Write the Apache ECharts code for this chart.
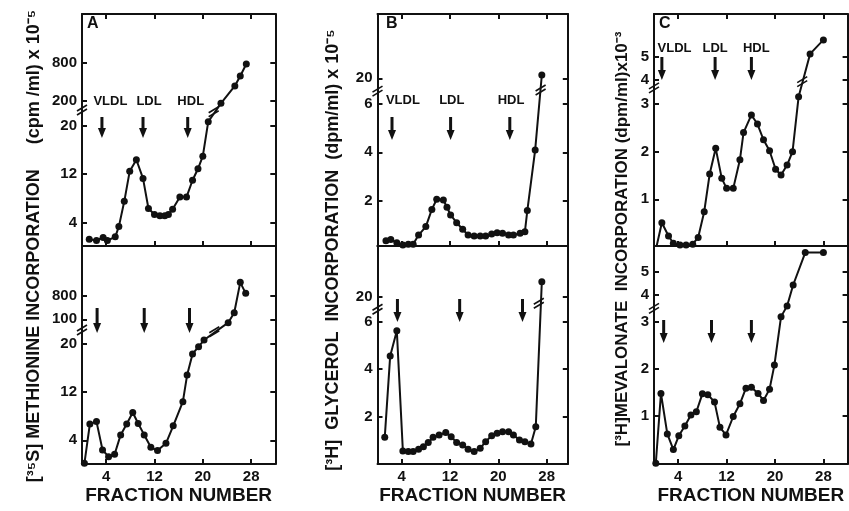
<!DOCTYPE html>
<html>
<head>
<meta charset="utf-8">
<script src="https://cdn.jsdelivr.net/npm/echarts@6/dist/echarts.min.js"></script>
<style>
  html, body { margin: 0; background: #fff; }
  #chart { width: 849px; height: 511px; }
</style>
</head>
<body>
<div id="chart"></div>
<script>
// fraction numbers on the x axis
const xTicks = [4, 12, 20, 28];
const lipoNames = ["VLDL", "LDL", "HDL"];

// A: [35S] methionine (cpm/ml x 10^-5)
const fracA1 = [1.2, 2.4, 3.5, 4.2, 5.5, 6.1, 7.0, 7.9, 9.0, 10.1, 11.0, 12.0, 12.9, 13.7, 14.3, 15.0, 16.2, 17.3, 18.3, 19.2, 20.0, 20.9, 23.0, 25.3, 26.2, 27.2];
const valA1 = [1.2, 1.0, 1.5, 1.0, 1.6, 3.3, 7.5, 12.5, 14.4, 11.3, 6.3, 5.3, 5.1, 5.1, 5.3, 6.2, 8.2, 8.2, 11.0, 12.9, 15.0, 51, 183, 437, 595, 784];
const fracA2 = [0.4, 1.3, 2.4, 3.4, 4.4, 5.4, 6.4, 7.4, 8.4, 9.3, 10.3, 11.4, 12.5, 13.9, 15.1, 16.7, 17.4, 18.3, 19.3, 20.2, 24.2, 25.2, 26.2, 27.1];
const valA2 = [0.2, 6.7, 7.1, 2.4, 1.3, 1.7, 4.9, 6.7, 8.6, 6.8, 4.9, 2.85, 2.3, 3.5, 6.4, 10.4, 14.8, 18.3, 19.5, 32, 89, 298, 1210, 880];
const yTicksA1 = [4, 12, 20, 200, 800];
const yTicksA2 = [4, 12, 20, 100, 800];

// B: [3H] glycerol (dpm/ml x 10^-5)
const fracB1 = [1.4, 2.2, 3.2, 4.2, 5.1, 5.9, 6.8, 8.0, 9.0, 9.8, 10.9, 11.5, 12.1, 13.1, 14.1, 15.0, 16.0, 17.0, 17.9, 18.9, 19.8, 20.7, 21.7, 22.5, 23.6, 24.4, 24.8, 26.1, 27.2];
const valB1 = [0.35, 0.40, 0.26, 0.17, 0.20, 0.20, 0.58, 0.93, 1.64, 2.06, 2.03, 1.73, 1.41, 1.09, 0.82, 0.58, 0.54, 0.54, 0.54, 0.62, 0.68, 0.65, 0.58, 0.58, 0.65, 0.72, 1.59, 4.1, 21.8];
const fracB2 = [1.2, 2.1, 3.2, 4.2, 5.1, 5.9, 6.8, 7.6, 8.4, 9.2, 10.2, 11.3, 12.2, 13.1, 14.1, 15.0, 16.0, 17.0, 17.9, 18.9, 19.8, 20.7, 21.7, 22.5, 23.5, 24.4, 25.4, 26.2, 27.2];
const valB2 = [1.13, 4.56, 5.62, 0.56, 0.53, 0.53, 0.63, 0.74, 0.91, 1.13, 1.23, 1.33, 1.16, 0.91, 0.81, 0.63, 0.53, 0.67, 0.95, 1.2, 1.3, 1.37, 1.37, 1.23, 1.02, 0.95, 0.85, 1.58, 28.4];
const yTicksB = [2, 4, 6, 20];

// C: [3H] mevalonate (dpm/ml x 10^-3)
const fracC1 = [0.4, 1.3, 2.4, 3.2, 4.3, 5.3, 6.4, 7.3, 8.3, 9.2, 10.2, 11.2, 12.0, 13.1, 14.2, 14.8, 16.1, 17.1, 18.1, 19.1, 20.1, 21.0, 22.0, 22.9, 23.9, 25.8, 28.0];
const valC1 = [0, 0.51, 0.23, 0.08, 0.04, 0.04, 0.06, 0.2, 0.74, 1.53, 2.07, 1.44, 1.23, 1.23, 1.83, 2.4, 2.77, 2.58, 2.25, 2.02, 1.63, 1.51, 1.72, 2.0, 3.3, 5.12, 5.72];
const fracC2 = [0.3, 1.15, 2.2, 3.2, 4.1, 5.1, 6.1, 7.0, 8.0, 8.9, 10.0, 10.9, 11.9, 13.1, 14.2, 15.2, 16.1, 17.2, 18.1, 19.1, 19.9, 21.0, 22.0, 23.0, 25.0, 28.0];
const valC2 = [0, 1.48, 0.62, 0.29, 0.58, 0.79, 1.02, 1.09, 1.47, 1.45, 1.3, 0.76, 0.6, 0.99, 1.26, 1.59, 1.61, 1.48, 1.33, 1.57, 2.08, 3.19, 3.59, 4.43, 5.82, 5.82];
const yTicksC = [1, 2, 3, 4, 5];

// arrow positions (fraction numbers)
const arrowsA1 = [3.3, 10.1, 17.5];
const arrowsA2 = [2.5, 10.3, 17.8];
const arrowsB1 = [2.4, 12.1, 21.9];
const arrowsB2 = [3.3, 13.6, 24.0];
const arrowsC1 = [1.3, 10.1, 16.1];
const arrowsC2 = [1.6, 9.5, 16.1];

const FONT = "'Liberation Sans', Arial, sans-serif";
const INK = "#111";

// broken axes: knots map a value to a position (px above the panel floor)
const panels = [
  { left: 82, top: 14, width: 193.3, height: 232, xMax: 32, frac: fracA1, val: valA1, yTicks: yTicksA1,
    knots: [[0, -0.5], [20, 120], [200, 145], [800, 183]], axisBreak: 135, lineBreak: [21.8, 123],
    arrows: arrowsA1, arrowTop: 129, arrowBot: 108, nameAt: [4.7, 11.1, 18.0], nameY: 145 },
  { left: 82, top: 246, width: 193.3, height: 218, xMax: 32, frac: fracA2, val: valA2, yTicks: yTicksA2,
    knots: [[0, -0.5], [20, 120.3], [100, 144.7], [800, 168]], axisBreak: 65, lineBreak: [21.9, 59],
    arrows: arrowsA2, arrowTop: 156, arrowBot: 131, xLabels: true },
  { left: 377.5, top: 14, width: 190.3, height: 232, xMax: 31.5, frac: fracB1, val: valB1, yTicks: yTicksB,
    knots: [[0, -3.1], [6, 142.1], [20, 167.7]], axisBreak: 13, lineBreak: [27.0, 13.6],
    arrows: arrowsB1, arrowTop: 129, arrowBot: 106, nameAt: [4.2, 12.3, 22.1], nameY: 146 },
  { left: 377.5, top: 246, width: 190.3, height: 218, xMax: 31.5, frac: fracB2, val: valB2, yTicks: yTicksB,
    knots: [[0, -0.2], [6, 142.3], [20, 167.3]], axisBreak: 13, lineBreak: [26.7, 16.3],
    arrows: arrowsB2, arrowTop: 165, arrowBot: 142, xLabels: true },
  { left: 654, top: 14, width: 193.6, height: 232, xMax: 32, frac: fracC1, val: valC1, yTicks: yTicksC,
    knots: [[0, -1], [3, 142], [4, 166], [5, 189.3]], axisBreak: 3.67, lineBreak: [24.5, 3.93],
    arrows: arrowsC1, arrowTop: 189, arrowBot: 166, nameAt: [3.4, 10.1, 16.9], nameY: 198 },
  { left: 654, top: 246, width: 193.6, height: 218, xMax: 32, frac: fracC2, val: valC2, yTicks: yTicksC,
    knots: [[0, 0.8], [3, 142.3], [4, 169], [5, 192.3]], axisBreak: 3.5,
    arrows: arrowsC2, arrowTop: 144, arrowBot: 121, xLabels: true }
];

function place(knots, v) {
  for (let i = 1; i < knots.length; i++) {
    if (v <= knots[i][0] || i === knots.length - 1) {
      const a = knots[i - 1], b = knots[i];
      return a[1] + (v - a[0]) * (b[1] - a[1]) / (b[0] - a[0]);
    }
  }
}

const grid = [], xAxis = [], yAxis = [], series = [];

panels.forEach((p, i) => {
  grid.push({ left: p.left, top: p.top, width: p.width, height: p.height });
  const tickPos = p.yTicks.map(t => place(p.knots, t));
  const tickLabel = v => {
    const k = tickPos.findIndex(t => Math.abs(t - v) < 0.01);
    return k < 0 ? "" : String(p.yTicks[k]);
  };
  const line = { show: true, onZero: false, lineStyle: { color: INK, width: 2 } };
  const tick = { show: true, inside: true, length: 5, lineStyle: { color: INK, width: 2 } };

  xAxis.push({
    gridIndex: i, type: "value", min: 0, max: p.xMax, position: "bottom",
    axisLine: line, splitLine: { show: false },
    axisTick: Object.assign({ customValues: xTicks }, tick, { show: true }),
    axisLabel: { show: !!p.xLabels, customValues: xTicks, margin: 5,
      color: INK, fontFamily: FONT, fontWeight: "bold", fontSize: 15 }
  });
  xAxis.push({
    gridIndex: i, type: "value", min: 0, max: p.xMax, position: "top",
    axisLine: line, splitLine: { show: false },
    axisTick: Object.assign({ customValues: xTicks }, tick, { show: !p.xLabels }),
    axisLabel: { show: false }
  });
  yAxis.push({
    gridIndex: i, type: "value", min: 0, max: p.height, position: "left",
    axisLine: line, splitLine: { show: false },
    axisTick: Object.assign({ customValues: tickPos }, tick),
    axisLabel: { customValues: tickPos, formatter: tickLabel, margin: 5,
      color: INK, fontFamily: FONT, fontWeight: "bold", fontSize: 15 }
  });
  yAxis.push({
    gridIndex: i, type: "value", min: 0, max: p.height, position: "right",
    axisLine: line, splitLine: { show: false },
    axisTick: Object.assign({ customValues: tickPos }, tick),
    axisLabel: { show: false }
  });

  const ax = { xAxisIndex: 2 * i, yAxisIndex: 2 * i };

  series.push(Object.assign({
    type: "line",
    data: p.frac.map((f, k) => [f, place(p.knots, p.val[k])]),
    symbol: "circle", symbolSize: 7, showSymbol: true,
    lineStyle: { color: INK, width: 2 }, itemStyle: { color: INK },
    animation: false, silent: true
  }, ax));

  // lipoprotein arrows and their names
  series.push(Object.assign({
    type: "custom", animation: false, silent: true, clip: false,
    data: p.arrows.map((f, k) => [f, k]),
    renderItem: (params, api) => {
      const f = api.value(0), k = api.value(1);
      const a = api.coord([f, p.arrowTop]), b = api.coord([f, p.arrowBot]);
      const children = [
        { type: "line", shape: { x1: a[0], y1: a[1], x2: b[0], y2: b[1] - 6 },
          style: { stroke: INK, lineWidth: 3 } },
        { type: "polygon", shape: { points: [[b[0] - 4, b[1] - 10], [b[0] + 4, b[1] - 10], [b[0], b[1]]] },
          style: { fill: INK } }
      ];
      if (p.nameAt) {
        const c = api.coord([p.nameAt[k], p.nameY]);
        children.push({ type: "text", x: c[0], y: c[1],
          style: { text: lipoNames[k], fill: INK, font: "bold 13px " + FONT,
            textAlign: "center", textVerticalAlign: "middle" } });
      }
      return { type: "group", children };
    }
  }, ax));

  // scale-break marks on the left axis and across the curve
  const breaks = [[0, p.axisBreak]];
  if (p.lineBreak) breaks.push(p.lineBreak);
  series.push(Object.assign({
    type: "custom", animation: false, silent: true, clip: false,
    data: breaks.map(b => [b[0], place(p.knots, b[1])]),
    renderItem: (params, api) => {
      const c = api.coord([api.value(0), api.value(1)]);
      const s = { stroke: INK, lineWidth: 1.6 };
      return { type: "group", children: [
        { type: "line", shape: { x1: c[0] - 5, y1: c[1] + 1, x2: c[0] + 5, y2: c[1] - 5 }, style: s },
        { type: "line", shape: { x1: c[0] - 5, y1: c[1] + 5, x2: c[0] + 5, y2: c[1] - 1 }, style: s }
      ] };
    }
  }, ax));
});

const titleStyle = (text, size) => ({ text, fill: INK, font: "bold " + size + "px " + FONT,
  textAlign: "center", textVerticalAlign: "middle" });

const graphic = [
  { type: "text", x: 87, y: 16, style: { text: "A", fill: INK, font: "bold 16px " + FONT } },
  { type: "text", x: 386, y: 16, style: { text: "B", fill: INK, font: "bold 16px " + FONT } },
  { type: "text", x: 659, y: 16, style: { text: "C", fill: INK, font: "bold 16px " + FONT } },
  { type: "text", x: 34, y: 246, rotation: Math.PI / 2,
    style: titleStyle("[³⁵S] METHIONINE INCORPORATION     (cpm /ml) x 10⁻⁵", 18) },
  { type: "text", x: 333, y: 250, rotation: Math.PI / 2,
    style: titleStyle("[³H]  GLYCEROL  INCORPORATION  (dpm/ml) x 10⁻⁵", 18) },
  { type: "text", x: 622, y: 239, rotation: Math.PI / 2,
    style: titleStyle("[³H]MEVALONATE  INCORPORATION (dpm/ml)x10⁻³", 17) }
];
[[82, 193.3], [377.5, 190.3], [654, 193.6]].forEach(g => {
  graphic.push({ type: "text", x: g[0] + g[1] / 2, y: 496,
    style: titleStyle("FRACTION NUMBER", 19) });
});

const chart = echarts.init(document.getElementById("chart"));
chart.setOption({
  backgroundColor: "#fff",
  animation: false,
  grid, xAxis, yAxis, series, graphic
});
</script>
</body>
</html>
